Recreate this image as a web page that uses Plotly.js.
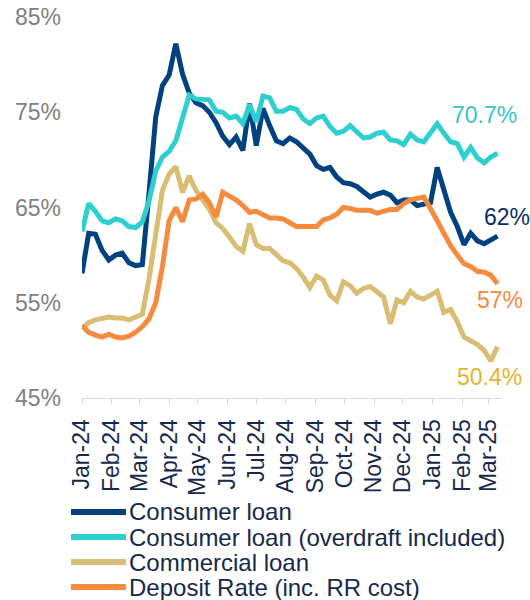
<!DOCTYPE html>
<html>
<head>
<meta charset="utf-8">
<script src="https://cdn.plot.ly/plotly-3.0.1.min.js"></script>
<style>html,body{margin:0;padding:0;background:#fff;}#chart{width:530px;height:600px;}</style>
</head>
<body>
<div id="chart"></div>
<script>
const weeks = ['2024-01-01','2024-01-08','2024-01-15','2024-01-22','2024-01-29','2024-02-05','2024-02-12','2024-02-19','2024-02-26','2024-03-04','2024-03-11','2024-03-18','2024-03-25','2024-04-01','2024-04-08','2024-04-15','2024-04-22','2024-04-29','2024-05-06','2024-05-13','2024-05-20','2024-05-27','2024-06-03','2024-06-10','2024-06-17','2024-06-24','2024-07-01','2024-07-08','2024-07-15','2024-07-22','2024-07-29','2024-08-05','2024-08-12','2024-08-19','2024-08-26','2024-09-02','2024-09-09','2024-09-16','2024-09-23','2024-09-30','2024-10-07','2024-10-14','2024-10-21','2024-10-28','2024-11-04','2024-11-11','2024-11-18','2024-11-25','2024-12-02','2024-12-09','2024-12-16','2024-12-23','2024-12-30','2025-01-06','2025-01-13','2025-01-20','2025-01-27','2025-02-03','2025-02-10','2025-02-17','2025-02-24','2025-03-03','2025-03-10'];

const consumerLoan = [58.1,62.3,62.2,60.5,59.5,60.0,60.2,59.2,58.9,59.0,66.5,74.5,77.8,78.9,82.2,79.0,77.0,76.0,75.7,75.0,73.9,72.5,71.6,72.4,71.0,75.9,71.5,75.4,73.6,72.0,71.7,72.3,71.9,71.3,70.6,69.4,69.0,69.2,68.2,67.6,67.5,67.2,66.6,66.1,66.4,66.6,66.3,65.5,65.8,65.8,65.2,65.3,65.5,69.2,66.8,64.5,63.0,61.1,62.3,61.5,61.2,61.6,62.0];

const consumerOverdraft = [62.5,65.4,64.6,63.6,63.4,63.8,63.6,63.0,62.9,63.5,65.7,68.8,70.3,70.9,72.0,74.2,76.8,76.4,76.4,76.3,75.1,75.0,74.4,74.6,73.8,75.8,74.0,76.7,76.5,75.1,75.1,75.5,75.3,74.3,73.8,74.4,74.6,73.5,72.8,73.0,73.6,72.9,72.3,72.4,72.8,72.9,72.1,72.0,71.6,72.7,72.1,71.9,72.8,73.8,72.8,71.9,71.7,70.3,71.3,70.2,69.7,70.3,70.7];

const commercialLoan = [52.3,52.9,53.2,53.4,53.5,53.4,53.4,53.2,53.5,53.8,57.5,62.5,66.8,68.5,69.3,66.6,68.3,66.8,65.9,64.8,63.4,62.8,61.9,60.9,60.4,63.3,61.1,60.7,60.7,60.0,59.4,59.2,58.6,57.7,56.6,57.8,57.4,55.8,55.2,57.2,56.8,56.0,56.5,56.7,56.2,55.6,52.8,55.3,55.0,56.2,55.6,55.4,55.8,56.2,54.0,54.3,53.0,51.4,51.0,50.6,50.0,48.9,50.4];

const depositRate = [52.6,51.9,51.6,51.4,51.7,51.4,51.3,51.5,51.9,52.5,53.3,55.0,58.8,63.6,65.0,63.5,65.8,65.9,66.4,65.5,64.0,66.6,66.2,65.8,65.2,64.5,64.6,64.3,63.9,63.9,63.8,63.4,63.0,63.0,63.0,63.0,63.7,63.9,64.3,65.0,64.9,64.7,64.7,64.7,64.4,64.6,64.8,64.8,65.4,65.8,66.0,66.1,64.9,63.6,62.4,61.0,60.0,59.1,58.8,58.3,58.2,57.9,57.0];

const seriesNames = ['Consumer loan','Consumer loan (overdraft included)','Commercial loan','Deposit Rate (inc. RR cost)'];
const endLabels = ['62%','70.7%','50.4%','57%'];

const monthTicks = ['2024-01-01','2024-02-01','2024-03-01','2024-04-01','2024-05-01','2024-06-01','2024-07-01','2024-08-01','2024-09-01','2024-10-01','2024-11-01','2024-12-01','2025-01-01','2025-02-01','2025-03-01'];
const monthLabels = ['Jan-24','Feb-24','Mar-24','Apr-24','May-24','Jun-24','Jul-24','Aug-24','Sep-24','Oct-24','Nov-24','Dec-24','Jan-25','Feb-25','Mar-25'];
const yTicks = [45,55,65,75,85];
const yTickLabels = ['45%','55%','65%','75%','85%'];

// styling
const allSeries = [consumerLoan, consumerOverdraft, commercialLoan, depositRate];
const lineColors = ['#00427f','#2ecfcf','#d8bd73','#f78b3d'];
const labelColors = ['#0c2d66','#3cc3c3','#e6b42a','#f5893a'];
const labelShift = [[9,19],[-13,38],[-8,-30],[2,-16]];
const FONT = 'Liberation Sans, Arial, sans-serif';
const navyText = '#17294a';

const W = 530, H = 600;
const M = {l:82, r:28, t:17, b:202};
const pw = W - M.l - M.r, ph = H - M.t - M.b;
const px2x = px => (px - M.l) / pw;
const py2y = py => (H - M.b - py) / ph;

const traces = allSeries.map((vals, i) => ({
  type: 'scatter', mode: 'lines', x: weeks, y: vals, name: seriesNames[i],
  line: {color: lineColors[i], width: 5}, hoverinfo: 'skip', showlegend: false
}));

const annotations = [];
const shapes = [];
allSeries.forEach((vals, i) => {
  annotations.push({
    x: weeks[weeks.length-1], y: vals[vals.length-1], xref: 'x', yref: 'y',
    text: endLabels[i], showarrow: false, xanchor: 'center', yanchor: 'middle',
    xshift: labelShift[i][0], yshift: labelShift[i][1],
    font: {family: FONT, size: 23, color: labelColors[i]}
  });
});

// manual legend
const legendRows = [512, 537, 562, 587];
seriesNames.forEach((nm, i) => {
  shapes.push({
    type: 'line', xref: 'paper', yref: 'paper',
    x0: px2x(71), x1: px2x(126), y0: py2y(legendRows[i]), y1: py2y(legendRows[i]),
    line: {color: lineColors[i], width: 6}
  });
  annotations.push({
    xref: 'paper', yref: 'paper', x: px2x(127), y: py2y(legendRows[i]),
    text: nm, showarrow: false, xanchor: 'left', yanchor: 'middle',
    font: {family: FONT, size: 24, color: navyText}
  });
});

const layout = {
  width: W, height: H,
  margin: M,
  paper_bgcolor: '#ffffff', plot_bgcolor: '#ffffff',
  showlegend: false,
  font: {family: FONT},
  xaxis: {
    type: 'date', range: ['2024-01-01', '2025-03-14 16:00'],
    tickmode: 'array', tickvals: monthTicks, ticktext: monthLabels,
    tickangle: -90, tickfont: {family: FONT, size: 23, color: navyText},
    showgrid: false, zeroline: false,
    showline: true, linecolor: '#d9d9d9', linewidth: 1,
    ticks: 'outside', ticklen: 5, tickcolor: '#d9d9d9', tickwidth: 1,
    ticklabelstandoff: 6
  },
  yaxis: {
    range: [45, 85], tickmode: 'array', tickvals: yTicks, ticktext: yTickLabels,
    tickfont: {family: FONT, size: 23, color: '#808080'},
    showgrid: false, zeroline: false, showline: false, ticks: '',
    ticklabelstandoff: 20
  },
  annotations: annotations,
  shapes: shapes
};

Plotly.newPlot('chart', traces, layout, {displayModeBar: false, staticPlot: true});
</script>
</body>
</html>
